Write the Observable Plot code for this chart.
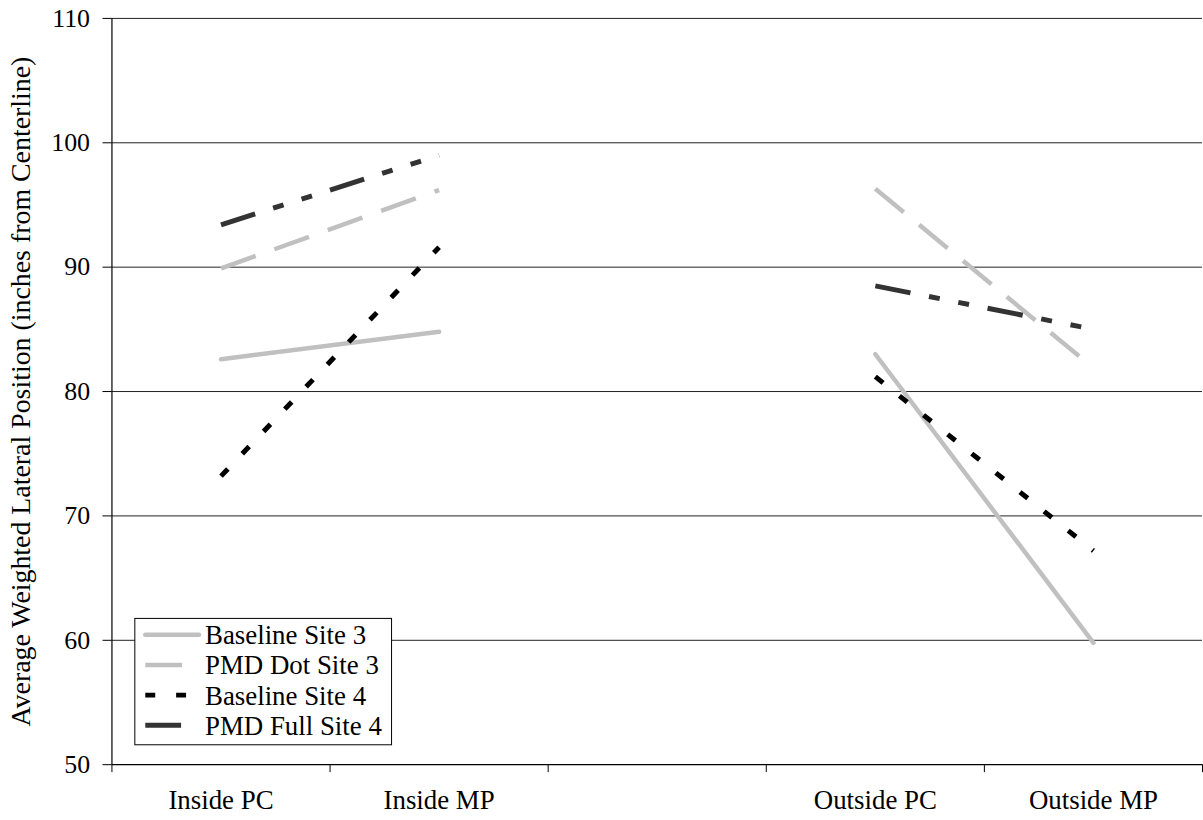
<!DOCTYPE html>
<html>
<head>
<meta charset="utf-8">
<script src="https://cdn.jsdelivr.net/npm/d3@7"></script>
<script src="https://cdn.jsdelivr.net/npm/@observablehq/plot@0.6"></script>
<style>
  html, body { margin: 0; padding: 0; background: white; overflow: hidden; }
  #chart svg { display: block; }
  #chart svg, #chart svg text { font-family: "Liberation Serif", "Times New Roman", Times, serif !important; }
</style>
</head>
<body>
<div id="chart"></div>
<script>
// ---- data ----
const categories = ["Inside PC", "Inside MP", "", "Outside PC", "Outside MP"];
const seriesNames = ["Baseline Site 3", "PMD Dot Site 3", "Baseline Site 4", "PMD Full Site 4"];
const baselineSite3 = [82.6, 84.8, null, 83.0, 59.8];
const pmdDotSite3   = [89.9, 96.2, null, 96.3, 81.9];
const baselineSite4 = [73.2, 91.6, null, 81.2, 67.2];
const pmdFullSite4  = [93.4, 99.0, null, 88.5, 85.0];
const yTicks = [50, 60, 70, 80, 90, 100, 110];
const yLabel = "Average Weighted Lateral Position (inches from Centerline)";

// ---- styles ----
const styles = [
  {stroke: "#c0c0c0", strokeWidth: 4.5, strokeDasharray: null, strokeLinecap: "round"},
  {stroke: "#c0c0c0", strokeWidth: 4.5, strokeDasharray: "37,20", strokeLinecap: "butt"},
  {stroke: "#000000", strokeWidth: 5, strokeDasharray: "10,21", strokeLinecap: "butt"},
  {stroke: "#333333", strokeWidth: 5, strokeDasharray: "36,19,11,19,11,19", strokeLinecap: "butt"}
];
const seriesValues = [baselineSite3, pmdDotSite3, baselineSite4, pmdFullSite4];

const rows = (vals) => vals.map((v, i) => ({x: i + 0.5, y: v}));
const font = "'Liberation Serif', 'Times New Roman', Times, serif";

const chart = Plot.plot({
  width: 1209,
  height: 820,
  marginLeft: 112,
  marginRight: 1,
  marginTop: 18,
  marginBottom: 52,
  style: {fontFamily: font, fontSize: "26px", background: "white", color: "black"},
  x: {type: "linear", domain: [0, categories.length]},
  y: {domain: [50, 110]},
  marks: [
    Plot.ruleY(yTicks.slice(1), {stroke: "#222", strokeWidth: 1}),
    Plot.axisY({ticks: yTicks, tickSize: 9, tickPadding: 13, fontSize: 26, label: null}),
    Plot.axisY({ticks: [], tickSize: 0, fontSize: 28,
      label: yLabel, labelAnchor: "center", labelArrow: "none", labelOffset: 102}),
    Plot.axisX({ticks: d3.range(0, categories.length + 1), tickFormat: () => "", tickSize: 8, label: null}),
    Plot.axisX({ticks: categories.map((c, i) => i + 0.5).filter((t, i) => categories[i] !== ""),
      tickFormat: t => categories[Math.floor(t)], tickSize: 0, tickPadding: 25, fontSize: 27, label: null}),
    Plot.ruleX([0], {stroke: "black", strokeWidth: 1.2}),
    Plot.ruleY([50], {stroke: "black", strokeWidth: 1.2}),
    ...seriesValues.map((vals, k) => Plot.line(rows(vals), {x: "x", y: "y", ...styles[k]}))
  ]
});
document.getElementById("chart").appendChild(chart);

// ---- legend (inside plot area) ----
const svg = d3.select(chart);
const lg = svg.append("g").attr("font-family", font).attr("font-size", 27).attr("text-anchor", "start");
lg.append("rect").attr("x", 135.5).attr("y", 621.5).attr("width", 258).attr("height", 127)
  .attr("fill", "white").attr("stroke", "black").attr("stroke-width", 1);
seriesNames.forEach((name, k) => {
  const cy = 638 + k * 30.3;
  const s = styles[k];
  lg.append("line").attr("x1", 146).attr("x2", 200).attr("y1", cy).attr("y2", cy)
    .attr("stroke", s.stroke).attr("stroke-width", s.strokeWidth)
    .attr("stroke-dasharray", s.strokeDasharray).attr("stroke-linecap", s.strokeLinecap);
  lg.append("text").attr("x", 206).attr("y", cy + 9.5).attr("text-anchor", "start").text(name);
});
</script>
</body>
</html>
